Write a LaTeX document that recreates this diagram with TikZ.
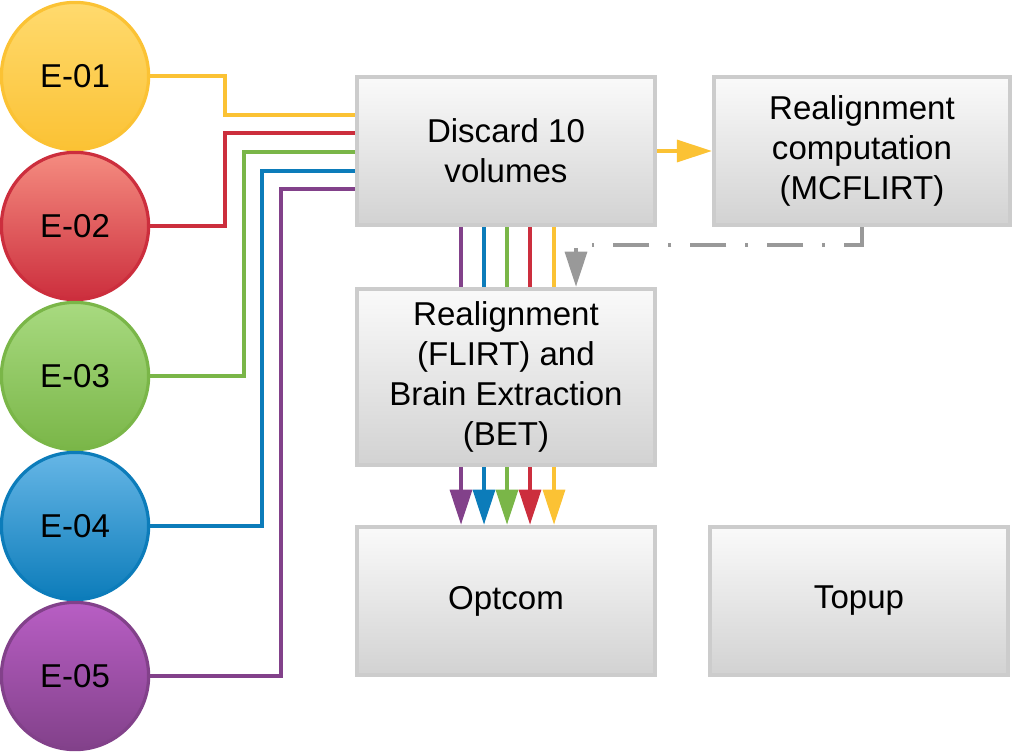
\documentclass[tikz,border=0pt]{standalone}
\usepackage{fontspec}
\setmainfont{Liberation Sans}
\usetikzlibrary{arrows.meta,backgrounds}

\definecolor{yelLine}{HTML}{FBC234}
\definecolor{yelTop}{HTML}{FFDA6E}
\definecolor{redLine}{HTML}{CC2E3D}
\definecolor{redTop}{HTML}{F58C80}
\definecolor{grnLine}{HTML}{7AB648}
\definecolor{grnTop}{HTML}{A8DA80}
\definecolor{bluLine}{HTML}{0C7CBA}
\definecolor{bluTop}{HTML}{66B6E6}
\definecolor{purLine}{HTML}{82418A}
\definecolor{purTop}{HTML}{B85EC4}
\definecolor{boxLine}{HTML}{CCCCCC}
\definecolor{boxTop}{HTML}{FAFAFA}
\definecolor{boxBot}{HTML}{D2D2D2}
\definecolor{linkGray}{HTML}{999999}

\begin{document}
\begin{tikzpicture}[x=0.025cm, y=-0.025cm,
	echo/.style = {circle, draw, line width=2.3pt, minimum size=3.68cm, inner sep=0pt, font=\fontsize{23.5}{28}\selectfont},
	stage/.style = {rectangle, draw=boxLine, line width=2.8pt, top color=boxTop, bottom color=boxBot, minimum width=7.45cm, minimum height=3.71cm, inner sep=0pt, align=center, font=\fontsize{23.5}{28.5}\selectfont},
	wire/.style = {line width=2.6pt},
	headed/.style = {-{Triangle[length=25pt, width=15.6pt]}},
	]
		
		\useasboundingbox (0,0) rectangle (1014,754);
		
		\node[echo, draw=yelLine, top color=yelTop, bottom color=yelLine] (E1) at (75,76) {E-01};
		\node[echo, draw=redLine, top color=redTop, bottom color=redLine] (E2) at (75,226) {E-02};
		\node[echo, draw=grnLine, top color=grnTop, bottom color=grnLine] (E3) at (75,376) {E-03};
		\node[echo, draw=bluLine, top color=bluTop, bottom color=bluLine] (E4) at (75,526) {E-04};
		\node[echo, draw=purLine, top color=purTop, bottom color=purLine] (E5) at (75,676) {E-05};
		
		\node[stage] (Discard) at (506,151) {Discard 10\\volumes};
		\node[stage, minimum width=7.4cm] (MCFLIRT) at (862,151) {Realignment\\computation\\(MCFLIRT)};
		\node[stage, minimum height=4.41cm] (FLIRT) at (506,377) {Realignment\\(FLIRT) and\\Brain Extraction\\(BET)};
		\node[stage] (Optcom) at (506,601) {Optcom};
		\node[stage] (Topup) at (859,601) {Topup};
		
		\begin{pgfonlayer}{background}
		\draw[wire, yelLine] (E1) -- (225,76) |- (Discard.west |- 0,115);
		\draw[wire, redLine] (E2) -- (225,226) |- (Discard.west |- 0,133);
		\draw[wire, grnLine] (E3) -- (244,376) |- (Discard.west |- 0,152);
		\draw[wire, bluLine] (E4) -- (262,526) |- (Discard.west |- 0,171);
		\draw[wire, purLine] (E5) -- (281,676) |- (Discard.west |- 0,189);
		
		\draw[wire, headed, purLine] (Discard.south -| 461,0) -- (Optcom.north -| 461,0);
		\draw[wire, headed, bluLine] (Discard.south -| 484,0) -- (Optcom.north -| 484,0);
		\draw[wire, headed, grnLine] (Discard.south -| 507,0) -- (Optcom.north -| 507,0);
		\draw[wire, headed, redLine] (Discard.south -| 530,0) -- (Optcom.north -| 530,0);
		\draw[wire, headed, yelLine] (Discard.south -| 554,0) -- (Optcom.north -| 554,0);
		
		\draw[wire, headed, yelLine] (Discard.east) -- (MCFLIRT.west);
		\draw[wire, headed, linkGray, dash pattern=on 25.6pt off 13.5pt on 2pt off 13.5pt] (MCFLIRT.south) |- (576,245) -- (FLIRT.north -| 576,0);
		\end{pgfonlayer}
		
	\end{tikzpicture}
\end{document}
